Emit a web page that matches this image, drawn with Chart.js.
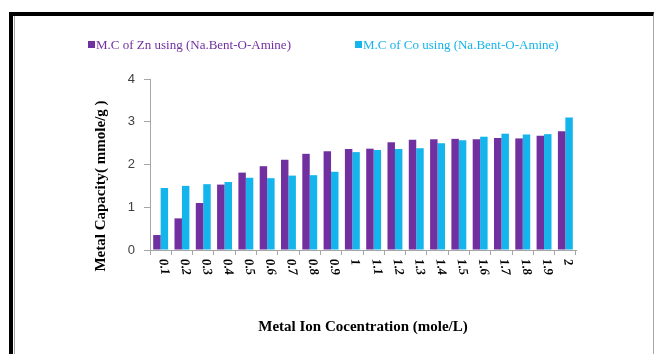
<!DOCTYPE html>
<html>
<head>
<meta charset="utf-8">
<script src="https://cdn.jsdelivr.net/npm/chart.js@4.4.1/dist/chart.umd.min.js"></script>
<style>
  html, body { margin: 0; padding: 0; background: #fff; width: 654px; height: 354px; overflow: hidden; }
  #frame { position: absolute; left: 9px; top: 12px; width: 640px; height: 400px;
           border-top: 4px solid #000; border-left: 4px solid #000; border-right: 1px solid #a6a6a6; }
  #inner { position: absolute; left: 14px; top: 16px; width: 1px; height: 400px; background: #a6a6a6; }
  #wrap { position: absolute; left: 0; top: 0; width: 654px; height: 354px; }
  .lg { position: absolute; top: 37px; font: 13px "Liberation Serif", serif; white-space: nowrap; line-height: 15px; }
  .lg i { display: inline-block; width: 7px; height: 7px; margin-right: 1px; vertical-align: 1px; }
</style>
</head>
<body>
<div id="frame"></div>
<div id="inner"></div>
<div id="wrap"><canvas id="c" width="654" height="354"></canvas></div>
<div id="lg0" class="lg" style="left:88px"></div>
<div id="lg1" class="lg" style="left:355px"></div>
<script>
const categories = ["0.1","0.2","0.3","0.4","0.5","0.6","0.7","0.8","0.9","1","1.1","1.2","1.3","1.4","1.5","1.6","1.7","1.8","1.9","2"];
const znValues = [0.35,0.74,1.10,1.53,1.81,1.96,2.11,2.25,2.31,2.36,2.37,2.52,2.58,2.59,2.60,2.59,2.62,2.61,2.67,2.78];
const coValues = [1.45,1.50,1.54,1.59,1.69,1.68,1.74,1.75,1.83,2.29,2.34,2.36,2.38,2.50,2.57,2.65,2.72,2.70,2.71,3.10];
const seriesNames = ["M.C of Zn using (Na.Bent-O-Amine)", "M.C of Co using (Na.Bent-O-Amine)"];
const seriesColors = ["#7030A0", "#14B4EC"];
const yTicks = [0, 1, 2, 3, 4];
const xTitle = "Metal Ion Cocentration (mole/L)";
const yTitle = "Metal Capacity( mmole/g )";

// HTML legend built from series arrays
seriesNames.forEach((n, i) => {
  const el = document.getElementById('lg' + i);
  const sw = document.createElement('i');
  sw.style.background = seriesColors[i];
  el.appendChild(sw);
  el.appendChild(document.createTextNode(n));
  el.style.color = seriesColors[i];
});

const labelPlugin = {
  id: 'labels',
  afterDraw(chart) {
    const ctx = chart.ctx, xs = chart.scales.x, area = chart.chartArea;
    ctx.save();
    ctx.font = 'italic bold 13px "Liberation Serif", serif';
    ctx.fillStyle = '#000';
    ctx.textAlign = 'left';
    ctx.textBaseline = 'middle';
    categories.forEach((lab, i) => {
      const x = xs.getPixelForValue(i);
      ctx.save();
      ctx.translate(x + 2, area.bottom + 9);
      ctx.rotate(Math.PI * 82 / 180);
      ctx.fillText(lab, 0, 0);
      ctx.restore();
    });
    // y axis title
    ctx.font = 'bold 15px "Liberation Serif", serif';
    ctx.textAlign = 'center';
    ctx.translate(101, 186);
    ctx.rotate(-Math.PI / 2);
    ctx.fillText(yTitle, 0, 0);
    ctx.restore();
  }
};

new Chart(document.getElementById('c'), {
  type: 'bar',
  data: {
    labels: categories,
    datasets: [
      { label: seriesNames[0], data: znValues, backgroundColor: seriesColors[0] },
      { label: seriesNames[1], data: coValues, backgroundColor: seriesColors[1] }
    ]
  },
  options: {
    responsive: false,
    animation: false,
    layout: { padding: { left: 0, right: 78, top: 79, bottom: 14 } },
    datasets: { bar: { categoryPercentage: 0.7, barPercentage: 1.0 } },
    plugins: { legend: { display: false }, tooltip: { enabled: false } },
    scales: {
      x: {
        offset: true,
        grid: { display: true, drawOnChartArea: false, offset: true, tickLength: 5, color: '#a6a6a6' },
        border: { display: true, color: '#a6a6a6' },
        ticks: { display: false },
        title: { display: true, text: xTitle, color: '#000', padding: { top: 4, bottom: 4 },
                 font: { family: '"Liberation Serif", serif', size: 15, weight: 'bold' } },
        afterFit(s) { s.height = 90; }
      },
      y: {
        min: yTicks[0], max: yTicks[yTicks.length - 1],
        afterBuildTicks(s) { s.ticks = yTicks.map(v => ({ value: v })); },
        grid: { display: true, drawOnChartArea: false, tickLength: 6, color: '#a6a6a6' },
        border: { display: true, color: '#a6a6a6' },
        ticks: { color: '#404040', padding: 9, font: { family: '"Liberation Sans", sans-serif', size: 13 } },
        afterFit(s) { s.width = 150; }
      }
    }
  },
  plugins: [labelPlugin]
});
</script>
</body>
</html>
